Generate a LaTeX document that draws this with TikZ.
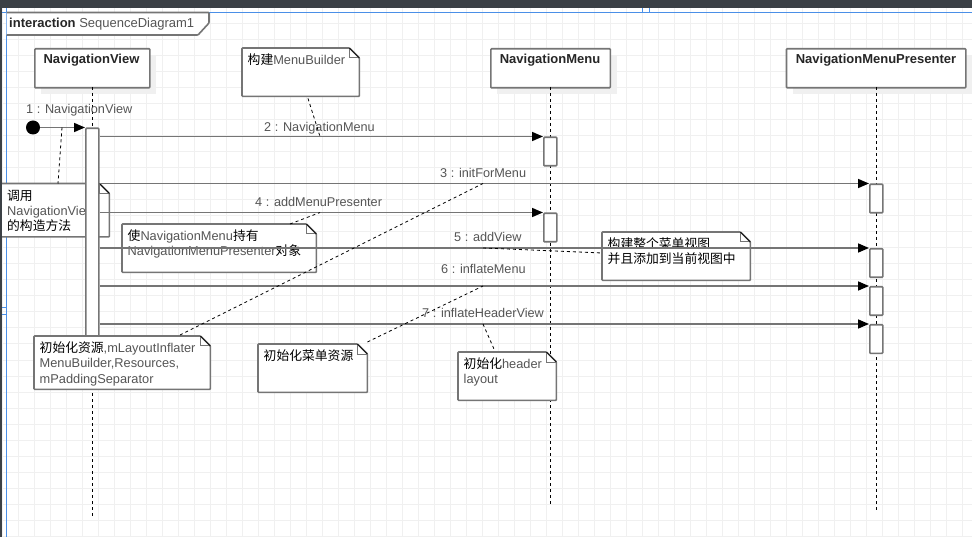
\documentclass[tikz,border=0pt]{standalone}
\usepackage{fontspec}
\setmainfont{Liberation Sans}
\newfontfamily\cjk{Noto Sans CJK SC}
\usetikzlibrary{arrows.meta}
\definecolor{edgegray}{HTML}{757575}
\definecolor{txtgray}{HTML}{555555}
\definecolor{gridgray}{HTML}{F0F0F0}
\definecolor{shadowgray}{HTML}{F0F0F0}
\definecolor{barblue}{HTML}{4A8FE7}
\definecolor{bardark}{HTML}{3B4045}
\newcommand{\zh}[1]{{\cjk\color{black}#1}}
\tikzset{
  box/.style={draw=edgegray,line width=1.6pt,rounded corners=0.8pt},
  headbox/.style={box,fill=white,inner sep=0pt,anchor=north west},
  headtext/.style={font=\fontsize{13}{14}\selectfont\bfseries,text=black!85,inner sep=0pt},
  actbox/.style={box,fill=white,inner sep=0pt,anchor=north west,minimum width=13pt},
  life/.style={draw=black,line width=1pt,dash pattern=on 3pt off 3pt},
  msg/.style={draw=edgegray,line width=1.6pt},
  msgtip/.style={-{Triangle[length=11pt,width=9pt,fill=black,color=black]}},
  msglabel/.style={font=\fontsize{12.7}{14}\selectfont,text=txtgray,inner sep=0pt,anchor=base west},
  link/.style={draw=black,line width=0.8pt,dash pattern=on 3pt off 3pt},
  notebody/.style={inner sep=0pt,anchor=north west},
  notetext/.style={font=\fontsize{12.8}{15.4}\selectfont,text=txtgray,inner sep=0pt,align=left,anchor=north west},
}
% name, x, y, width, height, text
\newcommand{\notebox}[6]{%
  \node[notebody,minimum width=#4pt,minimum height=#5pt] (#1) at (#2,#3) {};
  \filldraw[box,fill=white] (#1.north west) -- ([xshift=-10pt]#1.north east) -- ([yshift=-10pt]#1.north east) -- (#1.south east) -- (#1.south west) -- cycle;
  \draw[draw=edgegray,line width=1pt] ([xshift=-10pt]#1.north east) -- ([shift={(-10,10)}]#1.north east) -- ([yshift=-10pt]#1.north east);
  \draw[black,line width=0.7pt] ([xshift=-10pt]#1.north east) -- ([yshift=-10pt]#1.north east);
  \node[notetext] (#1t) at ([shift={(5.5,5.5)}]#1.north west) {#6};
}
\begin{document}
\begin{tikzpicture}[x=1pt,y=-1pt]
\useasboundingbox (0,0) rectangle (972,537);
\fill[white] (0,0) rectangle (972,537);
% grid
\foreach \gx in {2,18,...,970} \draw[gridgray,line width=1pt] (\gx,8) -- (\gx,537);
\foreach \gy in {24,40,...,536} \draw[gridgray,line width=1pt] (2,\gy) -- (972,\gy);
% window chrome
\fill[bardark] (0,0) rectangle (972,8);
\fill[bardark] (0,0) rectangle (2,537);
\draw[barblue,line width=1.3pt] (2,12.5) -- (972,12.5);
\draw[barblue,line width=1.3pt] (6.5,8) -- (6.5,537);
\draw[barblue,line width=1pt] (2,307.5) -- (6,307.5) (2,315) -- (6,315);
\draw[barblue,line width=1pt] (642,8) -- (642,12) (649.5,8) -- (649.5,12);
% frame title
\draw[box,fill=white] (6.5,12.5) -- (209,12.5) -- (209,23) -- (198,35) -- (6.5,35);
\node[font=\fontsize{13}{14}\selectfont,text=txtgray,inner sep=0pt,anchor=base west] (frame) at (9,28) {\textbf{\textcolor{black!85}{interaction}} SequenceDiagram1};
% lifeline heads
\fill[shadowgray] (41,55) rectangle (156,94);
\fill[shadowgray] (497,55) rectangle (616.5,94);
\fill[shadowgray] (792.7,55) rectangle (972,94);
\node[headbox,minimum width=115pt,minimum height=39pt] (nv) at (34,48) {};
\node[headbox,minimum width=119.5pt,minimum height=39pt] (nm) at (490,48) {};
\node[headbox,minimum width=179.3pt,minimum height=39pt] (np) at (785.7,48) {};
\node[headtext] (nvt) at (91.5,60.5) {NavigationView};
\node[headtext] (nmt) at (550,60.5) {NavigationMenu};
\node[headtext] (npt) at (876,60.5) {NavigationMenuPresenter};
\coordinate (nvend) at (92.5,516);
\coordinate (nmend) at (550,504);
\coordinate (npend) at (876.7,511);
\draw[life] (92.5,87) -- (nvend);
\draw[life] (550,87) -- (nmend);
\draw[life] (876.7,87) -- (npend);
% notes under the activation and messages
\node[notebody,minimum width=107pt,minimum height=53pt] (n1) at (2,183.5) {};
\fill[white] (n1.north west) rectangle (n1.south east);
\draw[box] (n1.north west) -- ([xshift=-10pt]n1.north east) -- ([yshift=-10pt]n1.north east) -- (n1.south east) -- (n1.south west);
\draw[draw=edgegray,line width=1pt] ([xshift=-10pt]n1.north east) -- ([shift={(-10,10)}]n1.north east) -- ([yshift=-10pt]n1.north east);
\draw[black,line width=0.7pt] ([xshift=-10pt]n1.north east) -- ([yshift=-10pt]n1.north east);
\node[notetext] (n1t) at (7,189.5) {\zh{调用}\\NavigationView\\\zh{的构造方法}};
\notebox{n2}{242}{48}{117}{48}{\zh{构建}MenuBuilder}
\notebox{n3}{122}{224}{194}{48}{\zh{使}NavigationMenu\zh{持有}\\NavigationMenuPresenter\zh{对象}}
\notebox{n4}{602}{232}{148}{48}{\zh{构建整个菜单视图}\\\zh{并且添加到当前视图中}}
\notebox{n6}{258}{344}{109}{48}{\zh{初始化菜单资源}}
\notebox{n7}{458}{352}{98}{48}{\zh{初始化}header\\layout}
% activations
\node[actbox,minimum height=208.5pt] (a1) at (85,127.5) {};
\node[actbox,minimum height=28.5pt] (a2) at (543,136.5) {};
\node[actbox,minimum height=28.5pt] (a3) at (869,183.5) {};
\node[actbox,minimum height=28.5pt] (a4) at (543,212.5) {};
\node[actbox,minimum height=28.5pt] (a5) at (869,248) {};
\node[actbox,minimum height=28.5pt] (a6) at (869,286) {};
\node[actbox,minimum height=28.5pt] (a7) at (869,324) {};
\notebox{n5}{34}{336}{176}{53}{\zh{初始化资源},mLayoutInflater\\MenuBuilder,Resources,\\mPaddingSeparator}
% start
\node[circle,fill=black,inner sep=0pt,minimum size=14pt] (start) at (33,127.5) {};
\draw[msg,msgtip] (start) -- (a1.north west);
% messages
\draw[msg,msgtip] (a1.east |- a2.north west) -- (a2.north west);
\draw[msg,msgtip] (a1.east |- a3.north west) -- (a3.north west);
\draw[msg,msgtip] (a1.east |- a4.north west) -- (a4.north west);
\draw[msg,msgtip] (a1.east |- a5.north west) -- (a5.north west);
\draw[msg,msgtip] (a1.east |- a6.north west) -- (a6.north west);
\draw[msg,msgtip] (a1.east |- a7.north west) -- (a7.north west);
% labels
\node[msglabel] (m1) at (26,114) {1 : NavigationView};
\node[msglabel] (m2) at (264,131.5) {2 : NavigationMenu};
\node[msglabel] (m3) at (440,178) {3 : initForMenu};
\node[msglabel] (m4) at (255,207) {4 : addMenuPresenter};
\node[msglabel] (m5) at (454,242) {5 : addView};
\node[msglabel] (m6) at (441,274) {6 : inflateMenu};
\node[msglabel] (m7) at (422,318) {7 : inflateHeaderView};
% note links
\draw[link] (62,127.5) -- (n1.north west -| 58,0);
\draw[link] (n2.south -| 308,0) ++(0,2) -- (320,136.5);
\draw[link] (n3.north -| 290,0) -- (320,212.5);
\draw[link] (483,248) -- (n4.west |- 0,253);
\draw[link] (180,335) -- (483,183.5);
\draw[link] (n6.north east) ++(0,-2) -- (483,286);
\draw[link] (483,324) -- (494,349);
\end{tikzpicture}
\end{document}
